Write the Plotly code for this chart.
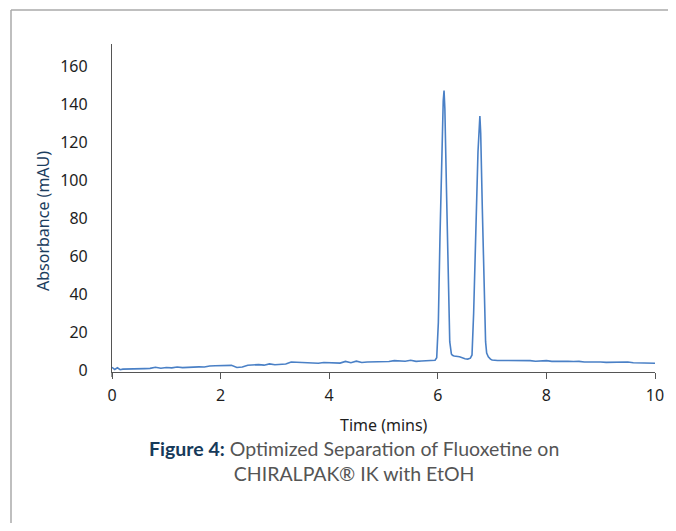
import plotly.graph_objects as go

# Chromatogram data (time in minutes, absorbance in mAU)
time_min = [0.0, 0.05, 0.1, 0.15, 0.2, 0.3, 0.4, 0.5, 0.6, 0.7, 0.8, 0.9,
            1.0, 1.1, 1.2, 1.3, 1.4, 1.5, 1.6, 1.7, 1.8, 1.9,
            2.0, 2.1, 2.2, 2.3, 2.4, 2.5, 2.6, 2.7, 2.8, 2.9,
            3.0, 3.1, 3.2, 3.3, 3.4, 3.5, 3.6, 3.7, 3.8, 3.9,
            4.0, 4.1, 4.2, 4.3, 4.4, 4.5, 4.6, 4.7, 4.8, 4.9,
            5.0, 5.1, 5.2, 5.3, 5.4, 5.5, 5.6, 5.7, 5.8, 5.9,
            5.95, 5.98, 6.01, 6.04, 6.07, 6.1, 6.115, 6.13, 6.16, 6.19, 6.22, 6.25, 6.27,
            6.3, 6.4, 6.5, 6.55, 6.6, 6.63, 6.66, 6.7, 6.74, 6.775, 6.79, 6.82, 6.85, 6.88, 6.9, 6.93,
            6.97, 7.0, 7.1, 7.2, 7.3, 7.4, 7.5, 7.6, 7.7, 7.8, 7.9,
            8.0, 8.1, 8.2, 8.3, 8.4, 8.5, 8.6, 8.7, 8.8, 8.9,
            9.0, 9.1, 9.2, 9.3, 9.4, 9.5, 9.6, 9.7, 9.8, 9.9, 10.0]
absorbance = [1.5, 0.3, 1.2, 0.2, 0.5, 0.5, 0.6, 0.7, 0.8, 0.9, 1.5, 1.0,
              1.4, 1.2, 1.6, 1.3, 1.5, 1.4, 1.7, 1.6, 2.2, 2.3,
              2.4, 2.3, 2.5, 1.4, 1.6, 2.6, 2.8, 2.9, 2.6, 3.3,
              2.8, 3.0, 3.2, 4.3, 4.2, 3.8, 3.7, 3.9, 3.6, 4.0,
              3.9, 4.1, 3.7, 4.6, 3.9, 4.7, 4.0, 4.3, 4.4, 4.5,
              4.6, 4.5, 5.0, 4.8, 4.7, 5.2, 4.6, 4.8, 4.8, 4.9,
              5.2, 6.5, 25.0, 70.0, 115.0, 142.0, 147.5, 138.0, 95.0, 50.0, 15.0, 8.5, 7.8,
              7.4, 7.0, 6.0, 5.8, 6.3, 8.0, 30.0, 75.0, 115.0, 134.0, 125.0, 85.0, 42.0, 15.0, 9.0, 7.0,
              5.8, 5.3, 5.1, 5.1, 5.0, 4.9, 4.8, 4.8, 5.0, 4.7, 4.8,
              5.0, 4.6, 4.7, 4.5, 4.6, 4.5, 4.6, 4.3, 4.4, 4.2,
              4.3, 4.1, 4.2, 4.0, 4.1, 4.3, 3.9, 3.8, 3.7, 3.8, 3.6]

x_ticks = [0, 2, 4, 6, 8, 10]
y_ticks = [0, 20, 40, 60, 80, 100, 120, 140, 160]

x_title = "Time (mins)"
y_title = "Absorbance (mAU)"
caption_bold = "Figure 4:"
caption_rest = " Optimized Separation of Fluoxetine on<br>CHIRALPAK® IK with EtOH"

# The page body has an 8px margin; the figure is sized to fit inside it.
OFF = 8
WIN_W, WIN_H = 676, 531
W, H = WIN_W - 2 * OFF, WIN_H - 2 * OFF
# plot area in window pixels
PL, PR, PT, PB = 112, 655, 44, 372
L, R, T, B = PL - OFF, W - (PR - OFF), PT - OFF, H - (PB - OFF)
pw, ph = W - L - R, H - T - B

def px(xw):
    return (xw - OFF - L) / pw

def py(yw):
    return (H - B - (yw - OFF)) / ph

fig = go.Figure()
fig.add_trace(go.Scatter(x=time_min, y=absorbance, mode="lines",
                         line=dict(color="#4a80c6", width=1.6),
                         hoverinfo="x+y", showlegend=False))

tick_font = dict(family="Noto Sans, sans-serif", size=16, color="#1e1e1e")

fig.update_layout(
    template="none",
    width=W, height=H,
    margin=dict(l=L, r=R, t=T, b=B, pad=0, autoexpand=False),
    paper_bgcolor="white", plot_bgcolor="white",
    xaxis=dict(range=[0, 10], tickvals=x_ticks, showgrid=False, zeroline=False,
               automargin=False,
               showline=True, linecolor="#555555", linewidth=1.2,
               ticks="outside", ticklen=6, tickcolor="#555555", tickwidth=1.2,
               ticklabelstandoff=3, tickfont=tick_font),
    yaxis=dict(range=[-1, 172], tickvals=y_ticks, showgrid=False, zeroline=False,
               automargin=False,
               showline=True, linecolor="#555555", linewidth=1.2,
               ticks="", ticklabelstandoff=20, tickfont=tick_font),
    shapes=[
        dict(type="line", xref="paper", yref="paper", x0=px(11), x1=px(WIN_W + 20),
             y0=py(10), y1=py(10), line=dict(color="#aaaaaa", width=1.5)),
        dict(type="line", xref="paper", yref="paper", x0=px(11), x1=px(11),
             y0=py(10), y1=py(WIN_H + 20), line=dict(color="#aaaaaa", width=1.5)),
        dict(type="line", xref="paper", yref="paper", x0=0, x1=0,
             y0=0, y1=py(377), line=dict(color="#555555", width=1.2)),
    ],
    annotations=[
        dict(xref="paper", yref="paper", x=px(43), y=py(221), xanchor="center", yanchor="middle",
             showarrow=False, textangle=-90, text=y_title,
             font=dict(family="Noto Sans, sans-serif", size=16, color="#1c3d5e")),
        dict(xref="paper", yref="paper", x=px(384), y=py(425), xanchor="center", yanchor="middle",
             showarrow=False, text=x_title,
             font=dict(family="Noto Sans, sans-serif", size=16, color="#1e1e1e")),
        dict(xref="paper", yref="paper", x=px(354), y=py(461), xanchor="center", yanchor="middle",
             showarrow=False, align="center",
             text=f"<b><span style='color:#163a5a'>{caption_bold}</span></b>{caption_rest}",
             font=dict(family="Lato, sans-serif", size=19.5, color="#555555")),
    ],
)

fig.write_html("out.html")
